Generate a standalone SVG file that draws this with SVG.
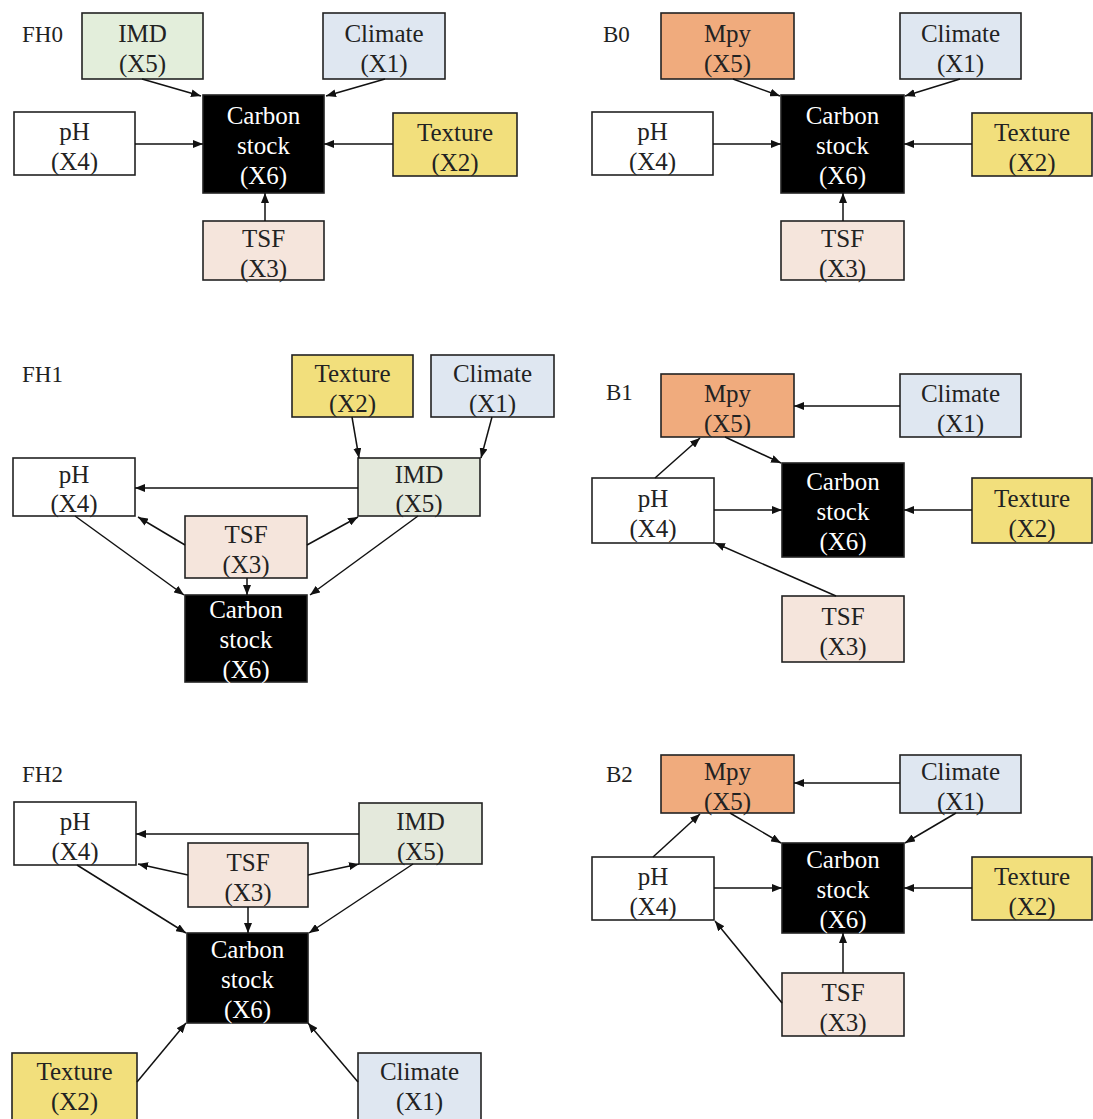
<svg xmlns="http://www.w3.org/2000/svg" width="1093" height="1119" viewBox="0 0 1093 1119">
<defs>
<marker id="ah" markerUnits="userSpaceOnUse" markerWidth="10" markerHeight="8" viewBox="0 0 10 8" refX="10" refY="4" orient="auto"><path d="M0,0 L10,4 L0,8 z" fill="#111"/></marker>
<style>
rect{stroke:#222;stroke-width:1.6}
rect.bg{stroke:none;fill:#fff}
text{font-family:"Liberation Serif","Times New Roman",serif;font-size:25px;fill:#222;text-anchor:middle}
.lbl{font-size:23px;text-anchor:start}
.w{fill:#fff}
.g{fill:#e3eedb}
.g2{fill:#e4e9dc}
.b{fill:#dfe7f1}
.y{fill:#f2df7c}
.p{fill:#f5e5dc}
.o{fill:#f0ab7d}
.k{fill:#000}
.kt{fill:#fff}
.c line{stroke:#111;stroke-width:1.5;marker-end:url(#ah)}
</style>
</defs>
<rect class="bg" x="0" y="0" width="1093" height="1119"/>

<!-- Panel labels -->
<text class="lbl" x="22" y="42">FH0</text>
<text class="lbl" x="603" y="42">B0</text>
<text class="lbl" x="22" y="382">FH1</text>
<text class="lbl" x="606" y="400">B1</text>
<text class="lbl" x="22" y="782">FH2</text>
<text class="lbl" x="606" y="782">B2</text>

<!-- FH0 -->
<g id="fh0-imd"><rect class="g" x="82" y="13" width="121" height="66"/><text x="142.5" y="42">IMD</text><text x="142.5" y="72">(X5)</text></g>
<g id="fh0-climate"><rect class="b" x="323" y="13" width="122" height="66"/><text x="384" y="42">Climate</text><text x="384" y="72">(X1)</text></g>
<g id="fh0-carbon"><rect class="k" x="203" y="95" width="121" height="98"/><text class="kt" x="263.5" y="124">Carbon</text><text class="kt" x="263.5" y="154">stock</text><text class="kt" x="263.5" y="184">(X6)</text></g>
<g id="fh0-ph"><rect class="w" x="14" y="112" width="121" height="63"/><text x="74.5" y="139.5">pH</text><text x="74.5" y="169.5">(X4)</text></g>
<g id="fh0-texture"><rect class="y" x="393" y="113" width="124" height="63"/><text x="455" y="140.5">Texture</text><text x="455" y="170.5">(X2)</text></g>
<g id="fh0-tsf"><rect class="p" x="203" y="221" width="121" height="59"/><text x="263.5" y="246.5">TSF</text><text x="263.5" y="276.5">(X3)</text></g>

<!-- B0 -->
<g id="b0-mpy"><rect class="o" x="661" y="13" width="133" height="66"/><text x="727.5" y="42">Mpy</text><text x="727.5" y="72">(X5)</text></g>
<g id="b0-climate"><rect class="b" x="900" y="13" width="121" height="66"/><text x="960.5" y="42">Climate</text><text x="960.5" y="72">(X1)</text></g>
<g id="b0-carbon"><rect class="k" x="781" y="95" width="123" height="98"/><text class="kt" x="842.5" y="124">Carbon</text><text class="kt" x="842.5" y="154">stock</text><text class="kt" x="842.5" y="184">(X6)</text></g>
<g id="b0-ph"><rect class="w" x="592" y="112" width="121" height="63"/><text x="652.5" y="139.5">pH</text><text x="652.5" y="169.5">(X4)</text></g>
<g id="b0-texture"><rect class="y" x="972" y="113" width="120" height="63"/><text x="1032" y="140.5">Texture</text><text x="1032" y="170.5">(X2)</text></g>
<g id="b0-tsf"><rect class="p" x="781" y="221" width="123" height="59"/><text x="842.5" y="246.5">TSF</text><text x="842.5" y="276.5">(X3)</text></g>

<!-- FH1 -->
<g id="fh1-texture"><rect class="y" x="292" y="355" width="121" height="62"/><text x="352.5" y="382">Texture</text><text x="352.5" y="412">(X2)</text></g>
<g id="fh1-climate"><rect class="b" x="431" y="355" width="123" height="62"/><text x="492.5" y="382">Climate</text><text x="492.5" y="412">(X1)</text></g>
<g id="fh1-ph"><rect class="w" x="13" y="458" width="122" height="58"/><text x="74" y="483">pH</text><text x="74" y="512">(X4)</text></g>
<g id="fh1-imd"><rect class="g2" x="358" y="458" width="122" height="58"/><text x="419" y="483">IMD</text><text x="419" y="512">(X5)</text></g>
<g id="fh1-tsf"><rect class="p" x="185" y="516" width="122" height="62"/><text x="246" y="543">TSF</text><text x="246" y="573">(X3)</text></g>
<g id="fh1-carbon"><rect class="k" x="185" y="595" width="122" height="87"/><text class="kt" x="246" y="618">Carbon</text><text class="kt" x="246" y="648">stock</text><text class="kt" x="246" y="678">(X6)</text></g>

<!-- B1 -->
<g id="b1-mpy"><rect class="o" x="661" y="374" width="133" height="63"/><text x="727.5" y="401.5">Mpy</text><text x="727.5" y="431.5">(X5)</text></g>
<g id="b1-climate"><rect class="b" x="900" y="374" width="121" height="63"/><text x="960.5" y="401.5">Climate</text><text x="960.5" y="431.5">(X1)</text></g>
<g id="b1-ph"><rect class="w" x="592" y="478" width="122" height="65"/><text x="653" y="506.5">pH</text><text x="653" y="536.5">(X4)</text></g>
<g id="b1-carbon"><rect class="k" x="782" y="463" width="122" height="94"/><text class="kt" x="843" y="490">Carbon</text><text class="kt" x="843" y="520">stock</text><text class="kt" x="843" y="550">(X6)</text></g>
<g id="b1-texture"><rect class="y" x="972" y="478" width="120" height="65"/><text x="1032" y="506.5">Texture</text><text x="1032" y="536.5">(X2)</text></g>
<g id="b1-tsf"><rect class="p" x="782" y="596" width="122" height="66"/><text x="843" y="625">TSF</text><text x="843" y="655">(X3)</text></g>

<!-- FH2 -->
<g id="fh2-ph"><rect class="w" x="14" y="802" width="122" height="63"/><text x="75" y="829.5">pH</text><text x="75" y="859.5">(X4)</text></g>
<g id="fh2-imd"><rect class="g2" x="359" y="803" width="123" height="61"/><text x="420.5" y="829.5">IMD</text><text x="420.5" y="859.5">(X5)</text></g>
<g id="fh2-tsf"><rect class="p" x="188" y="843" width="120" height="64"/><text x="248" y="871">TSF</text><text x="248" y="901">(X3)</text></g>
<g id="fh2-carbon"><rect class="k" x="187" y="933" width="121" height="90"/><text class="kt" x="247.5" y="958">Carbon</text><text class="kt" x="247.5" y="988">stock</text><text class="kt" x="247.5" y="1018">(X6)</text></g>
<g id="fh2-texture"><rect class="y" x="12" y="1053" width="125" height="72"/><text x="74.5" y="1080">Texture</text><text x="74.5" y="1110">(X2)</text></g>
<g id="fh2-climate"><rect class="b" x="358" y="1053" width="123" height="72"/><text x="419.5" y="1080">Climate</text><text x="419.5" y="1110">(X1)</text></g>

<!-- B2 -->
<g id="b2-mpy"><rect class="o" x="661" y="755" width="133" height="58"/><text x="727.5" y="780">Mpy</text><text x="727.5" y="810">(X5)</text></g>
<g id="b2-climate"><rect class="b" x="900" y="755" width="121" height="58"/><text x="960.5" y="780">Climate</text><text x="960.5" y="810">(X1)</text></g>
<g id="b2-ph"><rect class="w" x="592" y="857" width="122" height="63"/><text x="653" y="884.5">pH</text><text x="653" y="914.5">(X4)</text></g>
<g id="b2-carbon"><rect class="k" x="782" y="843" width="122" height="90"/><text class="kt" x="843" y="868">Carbon</text><text class="kt" x="843" y="898">stock</text><text class="kt" x="843" y="928">(X6)</text></g>
<g id="b2-texture"><rect class="y" x="972" y="857" width="120" height="63"/><text x="1032" y="884.5">Texture</text><text x="1032" y="914.5">(X2)</text></g>
<g id="b2-tsf"><rect class="p" x="782" y="973" width="122" height="63"/><text x="843" y="1000.5">TSF</text><text x="843" y="1030.5">(X3)</text></g>

<!-- Connectors -->
<g id="connectors" class="c">
<line x1="142" y1="79" x2="201" y2="96"/>
<line x1="385" y1="79" x2="326" y2="96"/>
<line x1="135" y1="144" x2="203" y2="144"/>
<line x1="393" y1="144" x2="324" y2="144"/>
<line x1="265" y1="221" x2="265" y2="193"/>

<line x1="733" y1="79" x2="780" y2="96"/>
<line x1="960" y1="79" x2="905" y2="96"/>
<line x1="713" y1="144" x2="781" y2="144"/>
<line x1="972" y1="144" x2="904" y2="144"/>
<line x1="843" y1="221" x2="843" y2="193"/>

<line x1="352" y1="417" x2="359" y2="458"/>
<line x1="492" y1="417" x2="481" y2="458"/>
<line x1="358" y1="488" x2="135" y2="488"/>
<line x1="185" y1="545" x2="138" y2="517"/>
<line x1="307" y1="545" x2="358" y2="517"/>
<line x1="75" y1="516" x2="184" y2="595"/>
<line x1="418" y1="516" x2="310" y2="595"/>
<line x1="247" y1="578" x2="247" y2="595"/>

<line x1="900" y1="406" x2="794" y2="406"/>
<line x1="725" y1="437" x2="781" y2="463"/>
<line x1="655" y1="478" x2="700" y2="438"/>
<line x1="714" y1="510" x2="782" y2="510"/>
<line x1="972" y1="510" x2="904" y2="510"/>
<line x1="836" y1="596" x2="715" y2="543"/>

<line x1="359" y1="834" x2="136" y2="834"/>
<line x1="188" y1="875" x2="138" y2="864"/>
<line x1="308" y1="875" x2="359" y2="864"/>
<line x1="77" y1="865" x2="186" y2="933"/>
<line x1="413" y1="864" x2="309" y2="933"/>
<line x1="248" y1="907" x2="248" y2="933"/>
<line x1="137" y1="1082" x2="186" y2="1023"/>
<line x1="358" y1="1082" x2="308" y2="1023"/>

<line x1="900" y1="783" x2="794" y2="783"/>
<line x1="730" y1="813" x2="781" y2="843"/>
<line x1="956" y1="813" x2="905" y2="843"/>
<line x1="653" y1="857" x2="700" y2="814"/>
<line x1="714" y1="888" x2="782" y2="888"/>
<line x1="972" y1="888" x2="904" y2="888"/>
<line x1="843" y1="973" x2="843" y2="933"/>
<line x1="782" y1="1003" x2="715" y2="921"/>
</g>
</svg>
